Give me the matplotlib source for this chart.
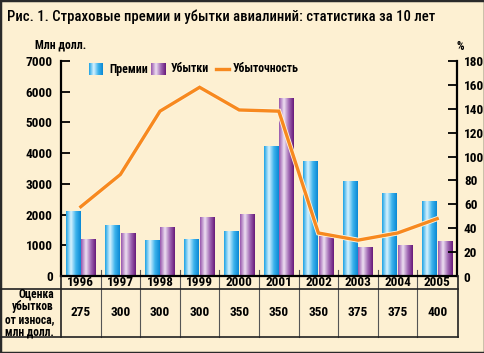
import numpy as np
import matplotlib
matplotlib.use('Agg')
import matplotlib.pyplot as plt
from matplotlib.colors import LinearSegmentedColormap
from matplotlib.transforms import blended_transform_factory
from matplotlib.patches import Rectangle
from matplotlib.lines import Line2D
import matplotlib.patheffects as pe

plt.rcParams['font.family'] = ['Roboto Condensed', 'DejaVu Sans']
plt.rcParams['font.weight'] = 'bold'

years = ['1996', '1997', '1998', '1999', '2000', '2001', '2002', '2003', '2004', '2005']
premiums = [2110, 1670, 1160, 1220, 1470, 4240, 3750, 3090, 2700, 2440]
losses = [1210, 1410, 1580, 1930, 2025, 5790, 1290, 930, 1000, 1150]
loss_ratio = [58, 85, 138, 158, 139, 138, 36, 30, 36, 48]
wear_losses = ['275', '300', '300', '300', '350', '350', '350', '375', '375', '400']

bg = '#FDF0D2'
orange = '#F7891F'
blue_cm = LinearSegmentedColormap.from_list('b', ['#1CA2E4', '#D8F3FF', '#3DB3EC', '#0A88D4'], N=64)
purple_cm = LinearSegmentedColormap.from_list('p', ['#9755AC', '#EEE0F2', '#A068B4', '#681A7A'], N=64)
grad = np.linspace(0, 1, 64).reshape(1, -1)

fig = plt.figure(figsize=(4.85, 3.53), dpi=100)
fig.patch.set_facecolor(bg)

W, H = 485.0, 353.0
def fy(px):
    return 1 - px / H

ax = fig.add_axes([61 / W, 1 - 276 / H, 396 / W, 215 / H])
ax.set_facecolor(bg)

x = np.arange(len(years))
bw = 0.36
b1 = ax.bar(x - 0.205, premiums, width=bw, facecolor='none', edgecolor='none', zorder=2)
b2 = ax.bar(x + 0.19, losses, width=bw, facecolor='none', edgecolor='none', zorder=2)

# gradient fill inside each bar
for bars, cm in ((b1, blue_cm), (b2, purple_cm)):
    for p in bars:
        x0, w, h = p.get_x(), p.get_width(), p.get_height()
        im = ax.imshow(grad, extent=[x0, x0 + w, 0, h], cmap=cm, aspect='auto',
                       interpolation='bilinear', zorder=2)
        im.set_clip_path(p)

ax.set_xlim(-0.5, len(years) - 0.5)
ax.set_ylim(0, 7000)
ax.set_yticks(range(0, 7001, 1000))
ax.set_xticks([])
ax.tick_params(axis='y', direction='in', length=6.5, width=1.3, pad=6, labelsize=9.5)
for s in ['left', 'bottom']:
    ax.spines[s].set_linewidth(1.6)
ax.spines['top'].set_visible(False)
ax.spines['right'].set_visible(False)

ax2 = ax.twinx()
ax2.plot(x, loss_ratio, color=orange, lw=2.4, solid_joinstyle='miter', zorder=5,
         path_effects=[pe.Stroke(linewidth=3.6, foreground='#FFF6E0'), pe.Normal()])
ax2.set_ylim(0, 180)
ax2.set_yticks(range(0, 181, 20))
ax2.set_yticklabels([''] + [str(v) for v in range(20, 181, 20)])
ax2.tick_params(axis='y', direction='in', length=6.5, width=1.3, pad=5, labelsize=9.5)
ax2.spines['right'].set_linewidth(1.6)
for s in ['left', 'top', 'bottom']:
    ax2.spines[s].set_visible(False)

# table under the chart
tr = blended_transform_factory(ax.transData, fig.transFigure)
for i, (yr, v) in enumerate(zip(years, wear_losses)):
    ax.text(i, fy(283), yr, transform=tr, ha='center', va='center', fontsize=9.5, clip_on=False)
    ax.text(i, fy(312), v, transform=tr, ha='center', va='center', fontsize=9.5, clip_on=False)

for i in range(1, len(years)):
    ax.add_line(Line2D([i - 0.5, i - 0.5], [fy(270), fy(337)], transform=tr,
                       color='#555555', lw=0.8, clip_on=False))

fig.add_artist(Line2D([0, 458 / W], [fy(289), fy(289)], color='#222222', lw=1.2))
fig.add_artist(Line2D([0, 458 / W], [fy(337), fy(337)], color='#222222', lw=1.2))
fig.add_artist(Line2D([61 / W, 61 / W], [fy(276), fy(337)], color='#222222', lw=1.2))
fig.add_artist(Line2D([458 / W, 458 / W], [fy(276), fy(337)], color='#222222', lw=1.2))

fig.text(54 / W, fy(313), 'Оценка\nубытков\nот износа,\nмлн долл.', ha='right', va='center',
         multialignment='right', fontsize=8.3, linespacing=0.98)
fig.text(463 / W, fy(278), '0', ha='left', va='center', fontsize=9.5)

# titles
fig.text(7 / W, fy(17), 'Рис. 1. Страховые премии и убытки авиалиний: статистика за 10 лет',
         ha='left', va='center', fontsize=10.6, fontweight='medium')
fig.text(61 / W, fy(45), 'Млн долл.', ha='center', va='center', fontsize=8.5)
fig.text(460 / W, fy(46), '%', ha='center', va='center', fontsize=8.5)

# legend
for (x0, cm) in ((89, blue_cm), (151, purple_cm)):
    lax = fig.add_axes([x0 / W, fy(75), 14 / W, 12 / H])
    lax.imshow(grad, cmap=cm, aspect='auto', interpolation='bilinear')
    lax.axis('off')
fig.text(109 / W, fy(69), 'Премии', ha='left', va='center', fontsize=8.5)
fig.text(171 / W, fy(69), 'Убытки', ha='left', va='center', fontsize=8.5)
fig.add_artist(Line2D([216 / W, 229 / W], [fy(69), fy(69)], color=orange, lw=2.4))
fig.text(233 / W, fy(69), 'Убыточность', ha='left', va='center', fontsize=8.5)

fig.add_artist(Rectangle((0, 0), 1, 1, transform=fig.transFigure, fill=False,
                         lw=2.5, ec='#2a2a2a'))

fig.savefig('out.png', dpi=100, facecolor=bg)
